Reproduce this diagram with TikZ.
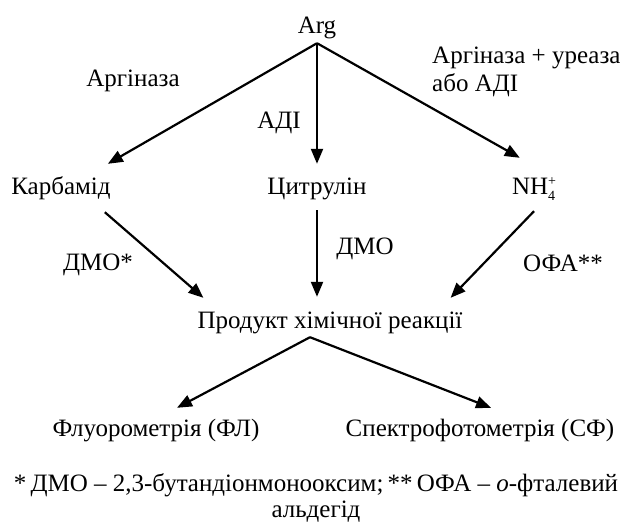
\documentclass[tikz,border=0pt]{standalone}
\usepackage{fontspec}
\setmainfont{Liberation Serif}
\usetikzlibrary{arrows.meta}
\tikzset{arr/.style={-{Triangle[length=15pt,width=12pt]},line width=2.2pt}}
\tikzset{txt/.style={inner sep=0pt,anchor=base,text height=17pt,text depth=5pt,font=\fontsize{25}{28}\selectfont}}
\tikzset{lbl/.style={inner sep=0pt,anchor=base,font=\fontsize{25}{28}\selectfont}}

\begin{document}
\begin{tikzpicture}[x=1pt,y=-1pt]
\useasboundingbox (0,0) rectangle (624,523);
\node (arg) at (317,33) [txt] {Arg};
\node (karb) at (61,194) [txt] {Карбамід};
\node (citr) at (317,194) [txt] {Цитрулін};
\node (nh) at (534,194) [txt] {NH\rlap{\raisebox{-6pt}{\fontsize{14}{14}\selectfont 4}}\raisebox{9pt}{\fontsize{14}{14}\selectfont +}};
\node (prod) at (330,328) [txt] {Продукт хімічної реакції};
\node (fluo) at (156,436) [txt] {Флуорометрія (ФЛ)};
\node (spec) at (480,436) [txt] {Спектрофотометрія (СФ)};
\coordinate (fork) at ([yshift=-5pt]arg.south);
\coordinate (split) at ([xshift=-20pt,yshift=-4pt]prod.south);
\draw[arr] (fork) -- ([xshift=-3pt,yshift=13pt]karb.north east);
\draw[arr] (fork) -- ([yshift=13pt]citr.north);
\draw[arr] (fork) -- ([xshift=8pt,yshift=19pt]nh.north west);
\draw[arr] ([xshift=-6pt,yshift=-13pt]karb.south east) -- ([xshift=6pt,yshift=13pt]prod.north west);
\draw[arr,shorten >=14pt] ([yshift=-11pt]citr.south) -- (citr.south |- prod.north);
\draw[arr] ([yshift=-12pt]nh.south) -- ([xshift=-12pt,yshift=13pt]prod.north east);
\draw[arr] (split) -- ([xshift=21pt,yshift=11pt]fluo.north);
\draw[arr] (split) -- ([xshift=11pt,yshift=11pt]spec.north);
\node (argin) at (133,86) [lbl] {Аргіназа};
\node (adi) at (279,128) [lbl] {АДІ};
\node (urea) at (432,47) [lbl,anchor=north west,align=left] {Аргіназа + уреаза\\або АДІ};
\node (dmo1) at (98,270) [lbl] {ДМО*};
\node (dmo2) at (365,254) [lbl] {ДМО};
\node (ofa) at (563,271) [lbl] {ОФА**};
\node (note) at (316,473) [lbl,anchor=north,align=center,font=\fontsize{25}{26}\selectfont] {*\,ДМО – 2,3-бутандіонмонооксим;\,**\,ОФА – \textit{о}-фталевий\\альдегід};
\end{tikzpicture}
\end{document}
